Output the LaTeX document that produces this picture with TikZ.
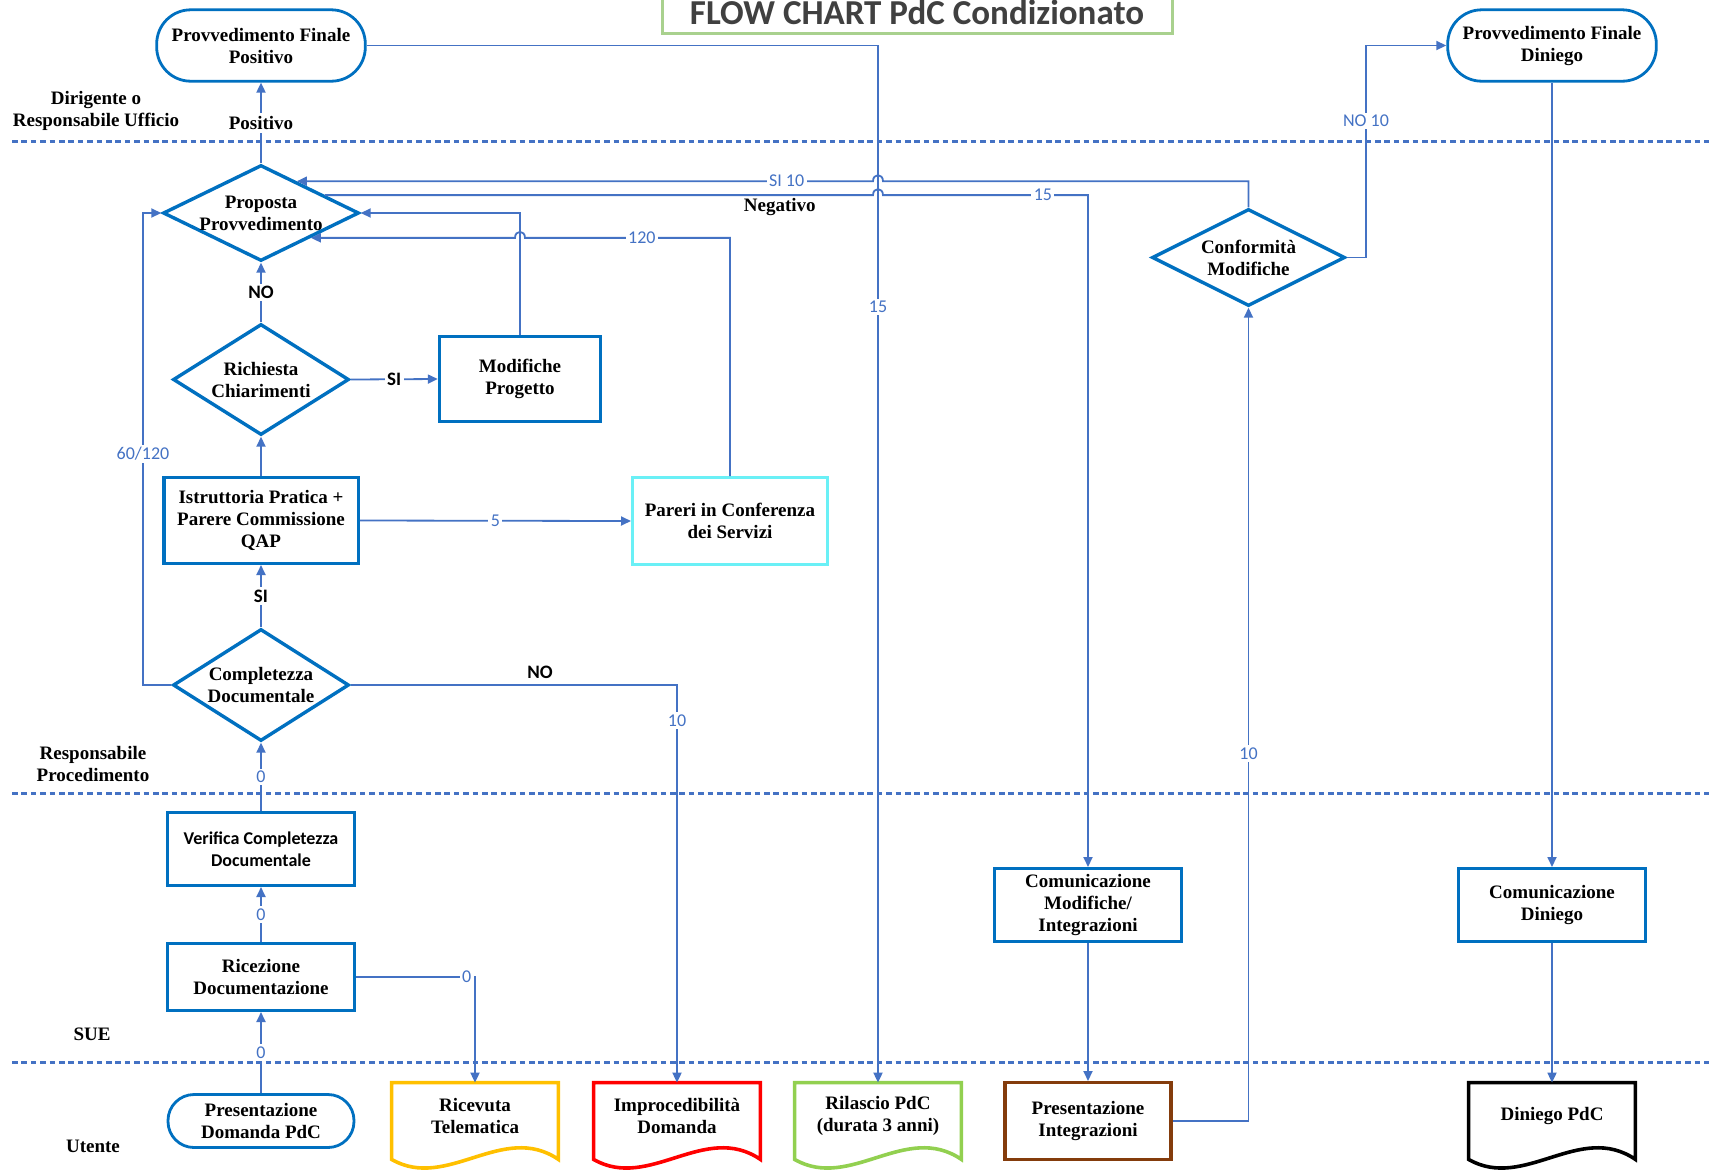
\documentclass[tikz,border=0pt]{standalone}
\usepackage{fontspec}
\setmainfont{Liberation Serif}
\newfontfamily\labelsans{Carlito}
\usetikzlibrary{shapes.geometric,arrows.meta,calc}

\definecolor{boxblue}{HTML}{0070C0}
\definecolor{flowblue}{HTML}{4472C4}
\definecolor{titlegreen}{HTML}{A9D18E}
\definecolor{titlegray}{HTML}{404040}
\definecolor{aqua}{HTML}{6AF0F6}
\definecolor{gold}{HTML}{FFC000}
\definecolor{leaf}{HTML}{92D050}
\definecolor{rust}{HTML}{843C0C}

% document symbol: flat top, wavy bottom, drawn round a named node
\newcommand\docframe[2]{%
  \draw[docline, draw=#2] (#1.north west) -- (#1.north east)
    -- ($(#1.south east)+(0,10)$)
    .. controls ($(#1.south east)!0.333!(#1.south west)+(0,-28)$)
           and ($(#1.south east)!0.667!(#1.south west)+(0,42)$)
    .. ($(#1.south west)+(0,10)$) -- cycle;}

\begin{document}
\begin{tikzpicture}[x=0.5pt,y=-0.5pt,
  txt/.style={font=\bfseries\fontsize{9.5}{11}\selectfont, align=center, inner sep=0pt},
  sanstxt/.style={font=\labelsans\bfseries\fontsize{9}{11}\selectfont, align=center, inner sep=0pt},
  box/.style={draw=boxblue, line width=1.7pt, fill=white, rectangle},
  stadium/.style={txt, draw=boxblue, line width=1.4pt, fill=white, rounded corners=#1},
  decision/.style={diamond, draw=boxblue, line width=1.7pt, fill=white, inner sep=0pt, shape aspect=2},
  doc/.style={txt, minimum width=83pt, minimum height=33pt},
  docline/.style={line width=1.8pt, line join=miter},
  flow/.style={draw=flowblue, line width=0.9pt, -{Triangle[length=5pt,width=4.5pt]}},
  lane/.style={draw=flowblue, line width=1.5pt, dash pattern=on 2.8pt off 1.9pt},
  num/.style={font=\labelsans\fontsize{9}{10}\selectfont, text=flowblue, fill=white, inner sep=1.2pt},
  yesno/.style={font=\labelsans\bfseries\fontsize{9.5}{10}\selectfont, fill=white, inner sep=1.2pt},
  titletext/.style={font=\labelsans\bfseries\fontsize{17.5}{20}\selectfont, text=titlegray, inner sep=0pt}
]
\fill[white] (0,0) rectangle (1709,1169);
\useasboundingbox (0,0) rectangle (1709,1169);

% title
\draw[titlegreen, line width=1.5pt] (662,-30) rectangle (1172,33);
\node[titletext, anchor=base] (title) at (917,24.5) {FLOW CHART PdC Condizionato};

% swimlane separators
\draw[lane] (12,141) -- (1709,141);
\draw[lane] (12,793.5) -- (1709,793.5);
\draw[lane] (12,1062) -- (1709,1062);

% swimlane names
\node[txt] (laneA) at (96,111) {Dirigente o\\Responsabile Ufficio};
\node[txt] (laneB) at (93,764) {Responsabile\\Procedimento};
\node[txt] (laneC) at (92,1034) {SUE};
\node[txt] (laneD) at (93,1146) {Utente};

% terminals
\node[stadium=17pt, minimum width=104.3pt, minimum height=35.7pt] (provpos) at (261,45.5) {Provvedimento Finale\\Positivo};
\node[stadium=17pt, minimum width=104.3pt, minimum height=35.7pt] (provdin) at (1552,45.5) {Provvedimento Finale\\Diniego};
\node[stadium=13pt, minimum width=93pt, minimum height=26.5pt] (presdom) at (261,1121) {Presentazione\\Domanda PdC};

% decisions
\node[decision, minimum width=98pt, minimum height=48pt,
      label={[txt]center:{Proposta\\Provvedimento}}] (prop) at (261,213) {};
\node[decision, minimum width=88pt, minimum height=55.5pt,
      label={[txt]center:{Richiesta\\Chiarimenti}}] (rich) at (261,379.5) {};
\node[decision, minimum width=88pt, minimum height=56pt,
      label={[txt]center:{Completezza\\Documentale}}] (comp) at (261,685) {};
\node[decision, minimum width=96.5pt, minimum height=48.5pt,
      label={[txt]center:{Conformità\\Modifiche}}] (conf) at (1248.5,257.5) {};

% process boxes
\node[box, txt, minimum width=80.5pt, minimum height=42.3pt] (modif) at (520,379) {Modifiche\\Progetto};
\node[box, txt, minimum width=97.2pt, minimum height=42.8pt] (istr) at (261,520.5) {Istruttoria Pratica +\\Parere Commissione\\QAP};
\node[box, txt, draw=aqua, minimum width=97.3pt, minimum height=43.3pt] (pareri) at (730,521) {Pareri in Conferenza\\dei Servizi};
\node[box, sanstxt, minimum width=93.4pt, minimum height=36.3pt] (verif) at (261,849) {Verifica Completezza\\Documentale};
\node[box, txt, minimum width=93.4pt, minimum height=33.3pt] (ricez) at (261,977) {Ricezione\\Documentazione};
\node[box, txt, minimum width=93.5pt, minimum height=36.3pt] (commod) at (1088,905) {Comunicazione\\Modifiche/\\Integrazioni};
\node[box, txt, minimum width=93.3pt, minimum height=36.3pt] (comdin) at (1552,905) {Comunicazione\\Diniego};
\node[box, txt, draw=rust, minimum width=83pt, minimum height=38.3pt] (presint) at (1088,1121) {Presentazione\\Integrazioni};

% documents
\node[doc] (ricev) at (475,1116) {Ricevuta\\Telematica};
\node[doc] (improc) at (677,1116) {Improcedibilità\\Domanda};
\node[doc] (rilascio) at (878,1116) {Rilascio PdC\\(durata 3 anni)};
\node[doc] (diniego) at (1552,1116) {Diniego PdC};
\docframe{ricev}{gold}
\docframe{improc}{red}
\docframe{rilascio}{leaf}
\docframe{diniego}{black}

% points on the border of the proposal diamond and bends
\coordinate (psi) at ($(prop.north)!0.36!(prop.east)$);
\coordinate (negs) at ($(prop.north)!0.64!(prop.east)$);
\coordinate (p120) at ($(prop.east)!0.5!(prop.south)$);
\coordinate (c60) at (143,213);
\coordinate (cno) at (1366,257.5);

% main column
\draw[flow] (presdom.north) -- node[num]{0} (ricez.south);
\draw[flow] (ricez.north) -- node[num]{0} (verif.south);
\draw[flow] (verif.north) -- node[num]{0} (comp.south);
\draw[flow] (comp.north) -- node[yesno]{SI} (istr.south);
\draw[flow] (istr.north) -- (rich.south);
\draw[flow] (rich.north) -- node[yesno]{NO} (prop.south);
\draw[flow] (prop.north) -- node[txt, fill=white, inner sep=1.5pt]{Positivo} (provpos.south);
\draw[flow] (rich.east) -- node[yesno]{SI} (modif.west);
\draw[flow] (istr.east) -- node[num]{5} (pareri.west);

% side branches
\draw[flow] (ricez.east) -- node[num, pos=0.93]{0} (ricez.east -| ricev.north) -- (ricev.north);
\draw[flow] (comp.east) -- node[yesno, pos=0.58, above=1.5pt, fill=none]{NO} (comp.east -| improc.north)
   -- node[num, pos=0.09]{10} (improc.north);
\draw[flow] (comp.west) -- (comp.west -| c60) -- node[num, pos=0.49]{60/120} (c60) -- (prop.west);
\draw[flow] (modif.north) |- (prop.east);
\draw[flow] (pareri.north) -- (pareri.north |- p120)
   -- node[num, pos=0.43]{120} ($(modif.north |- p120)+(5,0)$)
   .. controls +(0,-8) and +(0,-8) .. ($(modif.north |- p120)+(-5,0)$) -- (p120);
\draw[flow] (provpos.east) -| node[num, pos=0.626]{15} (rilascio.north);
\draw[flow] (negs) -- node[txt, pos=0.83, below=1pt]{Negativo} ($(rilascio.north |- negs)+(-5,0)$)
   .. controls +(0,-8) and +(0,-8) .. ($(rilascio.north |- negs)+(5,0)$)
   -- node[num, pos=0.78]{15} (negs -| commod.north) -- (commod.north);
\draw[flow] (conf.north) -- (conf.north |- psi) -- ($(rilascio.north |- psi)+(5,0)$)
   .. controls +(0,-8) and +(0,-8) .. ($(rilascio.north |- psi)+(-5,0)$)
   -- node[num, pos=0.15]{SI 10} (psi);
\draw[flow] (conf.east) -- (cno) |- node[num, pos=0.322]{NO 10} (provdin.west);
\draw[flow] (provdin.south) -- (comdin.north);
\draw[flow] (comdin.south) -- (diniego.north);
\draw[flow] (commod.south) -- (presint.north);
\draw[flow] (presint.east) -| node[num, pos=0.726]{10} (conf.south);

\end{tikzpicture}
\end{document}
